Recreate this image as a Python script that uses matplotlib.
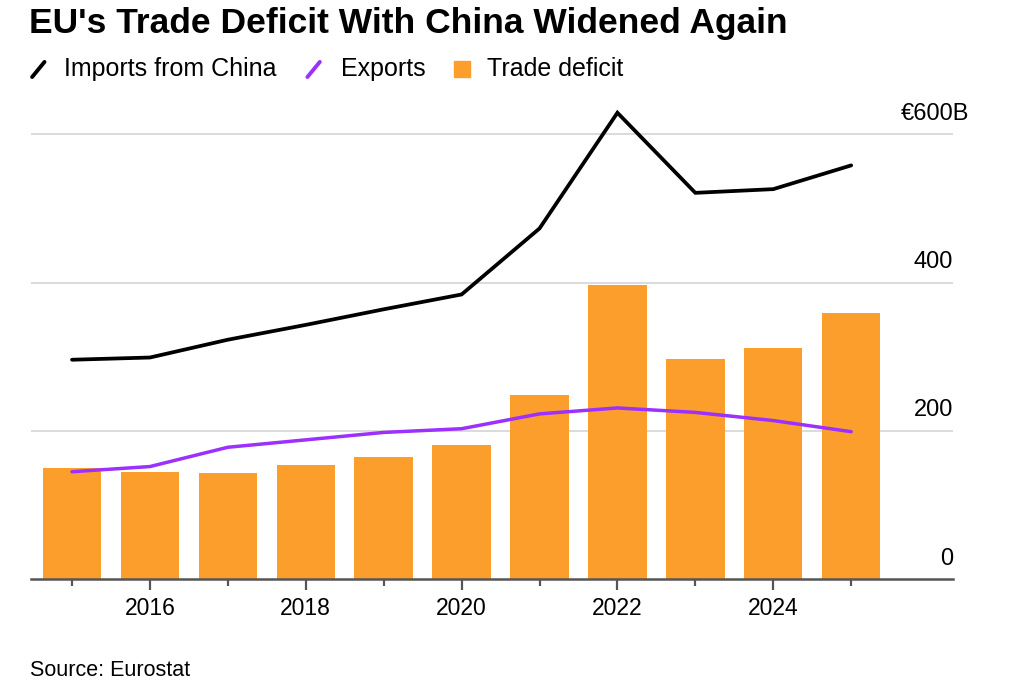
import matplotlib
matplotlib.use("Agg")
import matplotlib.pyplot as plt
from matplotlib.lines import Line2D
from matplotlib.patches import Rectangle

# EU trade with China, EUR billions
years = [2015, 2016, 2017, 2018, 2019, 2020, 2021, 2022, 2023, 2024, 2025]
imports_from_china = [296, 299, 323, 343, 364, 384, 473, 629, 521, 526, 558]
exports = [145, 152, 178, 188, 198, 203, 223, 231, 225, 214, 199]
trade_deficit = [150, 145, 143, 154, 165, 181, 248, 397, 297, 312, 359]

y_ticks = [0, 200, 400, 600]
y_labels = ["0", "200", "400", "€600B"]
x_ticks = [2016, 2018, 2020, 2022, 2024]

ORANGE = "#FB9E2B"
PURPLE = "#9B30FF"
GRID = "#DADADA"
AXIS = "#555555"

plt.rcParams["font.family"] = ["Liberation Sans", "DejaVu Sans"]

fig = plt.figure(figsize=(10.35, 6.88), dpi=100)
ax = fig.add_axes([0.030, 0.158, 0.891, 0.690])

# Bars
ax.bar(years, trade_deficit, width=0.75, color=ORANGE, zorder=2)

# Lines
ax.plot(years, imports_from_china, color="black", lw=2.7,
        solid_capstyle="round", solid_joinstyle="miter", zorder=3)
ax.plot(years, exports, color=PURPLE, lw=2.5,
        solid_capstyle="round", zorder=3)

ax.set_xlim(2014.474, 2026.31)
ax.set_ylim(0, 640)

# Gridlines and y labels above them on the right
for v, lab in zip(y_ticks, y_labels):
    if v > 0:
        ax.axhline(v, color=GRID, lw=1.4, zorder=1)
    # the "B" unit on the top label hangs past the right edge
    dx = 11.3 if lab.endswith("B") else 0
    ax.annotate(lab, xy=(1, v), xycoords=("axes fraction", "data"),
                xytext=(dx, 7), textcoords="offset points",
                ha="right", va="bottom", fontsize=17, color="black")

ax.set_yticks([])
for s in ["top", "right", "left"]:
    ax.spines[s].set_visible(False)
ax.spines["bottom"].set_color(AXIS)
ax.spines["bottom"].set_linewidth(1.8)
ax.spines["bottom"].set_zorder(4)

ax.set_xticks(x_ticks)
ax.set_xticklabels([str(x) for x in x_ticks])
ax.set_xticks([y for y in years if y not in x_ticks], minor=True)
ax.tick_params(axis="x", which="major", length=8, width=1.6, color=AXIS,
               labelsize=16.5, pad=5)
ax.tick_params(axis="x", which="minor", length=5, width=1.6, color=AXIS)

# Title
fig.text(0.028, 0.966, "EU's Trade Deficit With China Widened Again",
         fontsize=25.5, fontweight="bold", ha="left", va="center")

# Legend
ly = 0.899
fig.add_artist(Line2D([0.031, 0.043], [ly - 0.011, ly + 0.011],
                      color="black", lw=2.8, solid_capstyle="round"))
fig.text(0.062, ly, "Imports from China", fontsize=18, va="center")
fig.add_artist(Line2D([0.297, 0.309], [ly - 0.011, ly + 0.011],
                      color=PURPLE, lw=2.8, solid_capstyle="round"))
fig.text(0.329, ly, "Exports", fontsize=18, va="center")
fig.add_artist(Rectangle((0.4386, ly - 0.0115), 0.0155, 0.0233,
                         color=ORANGE, transform=fig.transFigure))
fig.text(0.4705, ly, "Trade deficit", fontsize=18, va="center")

# Source
fig.text(0.029, 0.026, "Source: Eurostat", fontsize=15.5, va="center")

fig.savefig("out.png", dpi=100)
